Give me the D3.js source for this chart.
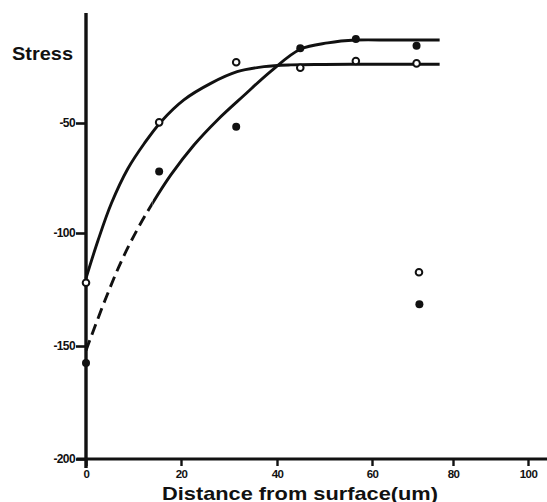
<!DOCTYPE html>
<html>
<head>
<meta charset="utf-8">
<script src="https://cdn.jsdelivr.net/npm/d3@7"></script>
<style>
  html, body { margin: 0; padding: 0; background: #fff; }
  svg { display: block; }
  text { font-family: "Liberation Sans", Arial, sans-serif; font-weight: bold; fill: #111; }
</style>
</head>
<body>
<svg id="chart" width="547" height="502"></svg>
<script>
// ---- data ----
const xTicks = [0, 20, 40, 60, 80, 100];
const yTicks = [-50, -100, -150, -200];

const distance     = [0, 15.4, 31.5, 44.9, 56.6, 71.0, 71.6];
const openStress   = [-122, -49.7, -22.4, -24.9, -21.8, -22.9, -117.4];
const filledDist   = [0, 15.4, 31.5, 44.9, 56.6, 71.0, 71.7];
const filledStress = [-157.5, -72.1, -51.7, -16.0, -11.8, -14.9, -131.5];

// fitted curves
const openFitX = [0, 2.56, 5.35, 8.8, 12.3, 15.8, 20.6, 26.2, 31.7, 37.3, 42.9, 50, 60, 70, 76.7];
const openFitY = [-120, -103.1, -86.5, -70.8, -59.2, -49.4, -39.5, -32.0, -26.7, -24.4, -23.6, -23.4, -23.3, -23.3, -23.3];
const filledFitX = [0, 3.96, 7.44, 10.9, 14.0, 17.9, 22.7, 27.6, 33.1, 38.7, 44.9, 50.7, 56.6, 65, 76.7];
const filledFitY = [-152, -130, -112.5, -98, -86.5, -73.5, -60, -48.6, -37.5, -26.5, -16.5, -13.6, -12.3, -12.3, -12.3];
const dashedUntil = 14.0; // filled fit is dashed from 0 to here

const svg = d3.select("#chart");
const W = 547;

// scales (the printed axis is slightly non-uniform, so polylinear)
const x = d3.scaleLinear().domain([0, 20, 40, 60, 80, 100]).range([86, 181, 277, 372, 453, 528]);
const y = d3.scaleLinear().domain([-200, -150, -100, -50, 0]).range([459, 346, 233, 123, 13]);

const ink = "#111";
const font = "'Liberation Sans', Arial, sans-serif";

// axes
const yAxis = d3.axisLeft(y).tickValues(yTicks).tickSize(10).tickPadding(1).tickFormat(d => String(d));
const gy = svg.append("g").attr("transform", `translate(${x(0)},0)`).call(yAxis);
gy.select(".domain").remove();
gy.selectAll(".tick line").attr("stroke", ink).attr("stroke-width", 2.6);
gy.selectAll(".tick text").attr("font-size", 12).attr("font-weight", "bold").attr("fill", ink)
  .attr("font-family", font).attr("letter-spacing", -0.6);

const xAxis = d3.axisBottom(x).tickValues(xTicks).tickSize(7).tickPadding(4).tickFormat(d => String(d));
const gx = svg.append("g").attr("transform", `translate(0,${y(-200)})`).call(xAxis);
gx.select(".domain").remove();
gx.selectAll(".tick line").attr("stroke", ink).attr("stroke-width", 2.4);
gx.selectAll(".tick text").attr("font-size", 11.5).attr("font-weight", "bold").attr("fill", ink)
  .attr("font-family", font).attr("letter-spacing", -0.6);

// axis lines
svg.append("line").attr("x1", x(0)).attr("x2", x(0)).attr("y1", y(0)).attr("y2", y(-204))
  .attr("stroke", ink).attr("stroke-width", 3.4);
svg.append("line").attr("x1", x(-2)).attr("x2", W).attr("y1", y(-200)).attr("y2", y(-200))
  .attr("stroke", ink).attr("stroke-width", 3.2);

// titles
svg.append("text").attr("x", 12).attr("y", 60).attr("font-size", 18.5)
  .attr("textLength", 61).attr("lengthAdjust", "spacingAndGlyphs").text("Stress");
svg.append("text").attr("x", 162).attr("y", 499.5).attr("font-size", 19)
  .attr("textLength", 276).attr("lengthAdjust", "spacingAndGlyphs").text("Distance from surface(um)");

// fitted curves
const line = d3.line().x(d => x(d[0])).y(d => y(d[1])).curve(d3.curveCatmullRom.alpha(0.5));
const openFit = openFitX.map((v, i) => [v, openFitY[i]]);
const filledFit = filledFitX.map((v, i) => [v, filledFitY[i]]);

const defs = svg.append("defs");
defs.append("clipPath").attr("id", "clipDash").append("rect")
  .attr("x", 0).attr("y", 0).attr("width", x(dashedUntil)).attr("height", 502);
defs.append("clipPath").attr("id", "clipSolid").append("rect")
  .attr("x", x(dashedUntil)).attr("y", 0).attr("width", W).attr("height", 502);

svg.append("path").attr("d", line(openFit)).attr("fill", "none").attr("stroke", ink).attr("stroke-width", 2.9);
svg.append("path").attr("d", line(filledFit)).attr("fill", "none").attr("stroke", ink).attr("stroke-width", 2.9)
  .attr("clip-path", "url(#clipSolid)");
svg.append("path").attr("d", line(filledFit)).attr("fill", "none").attr("stroke", ink).attr("stroke-width", 2.9)
  .attr("stroke-dasharray", "11,6").attr("clip-path", "url(#clipDash)");

// points
svg.append("g").selectAll("circle").data(distance.map((v, i) => [v, openStress[i]])).join("circle")
  .attr("cx", d => x(d[0])).attr("cy", d => y(d[1])).attr("r", 3.3)
  .attr("fill", "#fff").attr("stroke", ink).attr("stroke-width", 2);
svg.append("g").selectAll("circle").data(filledDist.map((v, i) => [v, filledStress[i]])).join("circle")
  .attr("cx", d => x(d[0])).attr("cy", d => y(d[1])).attr("r", 4)
  .attr("fill", ink);
</script>
</body>
</html>
